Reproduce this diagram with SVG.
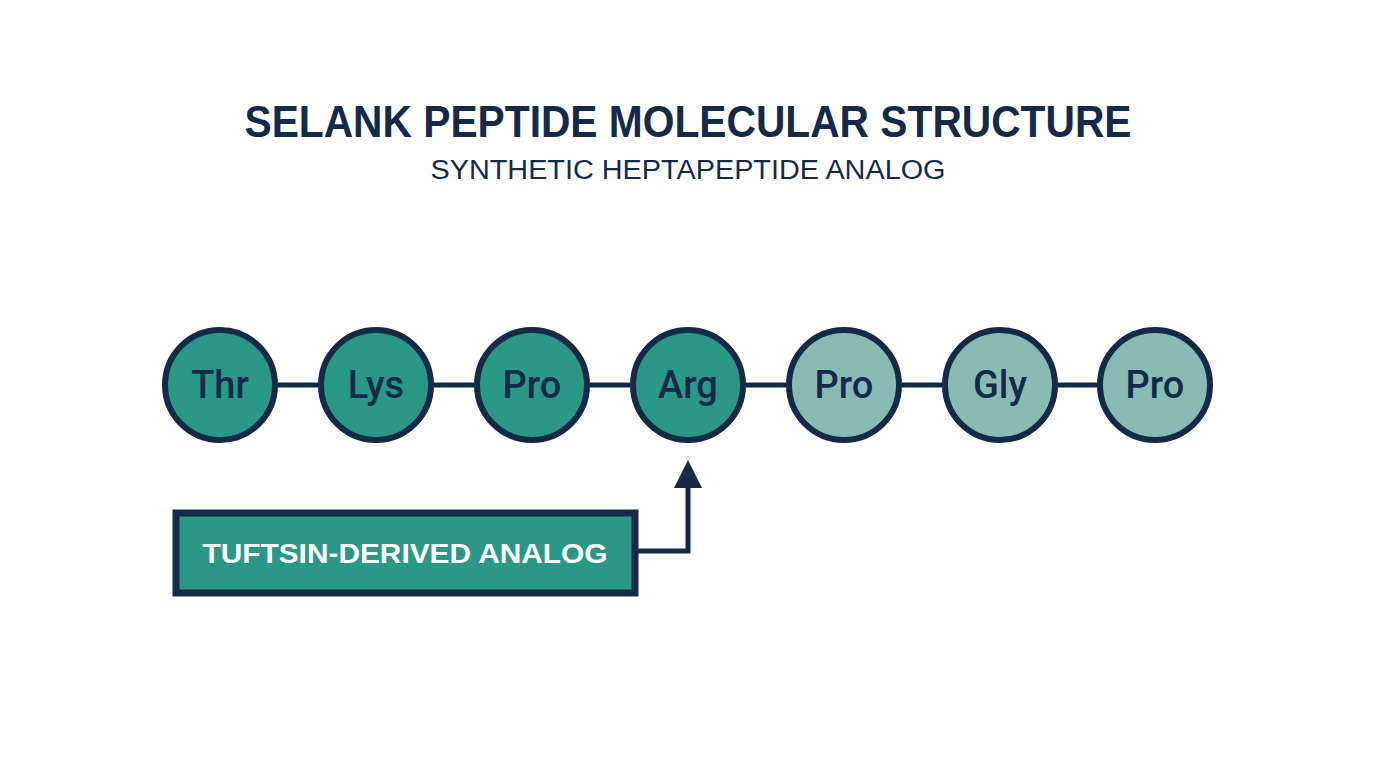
<svg xmlns="http://www.w3.org/2000/svg" width="1376" height="768" viewBox="0 0 1376 768">
<defs>
<style>
.res circle{stroke:#142a48;stroke-width:6}
.dark circle{fill:#2a9886}
.light circle{fill:#86bcb4}
.res text{font-family:Roboto,"Liberation Sans",Arial,sans-serif;font-weight:500;font-size:38px;fill:#142a48;text-anchor:middle}
.bond{stroke:#142a48;stroke-width:5;fill:none}
</style>
</defs>
<rect width="1376" height="768" fill="#ffffff"/>
<g id="title">
<text x="688" y="137" font-family="Liberation Sans,Arial,sans-serif" font-weight="bold" font-size="45" fill="#142a48" text-anchor="middle" textLength="887" lengthAdjust="spacingAndGlyphs">SELANK PEPTIDE MOLECULAR STRUCTURE</text>
<text x="688" y="179" font-family="Liberation Sans,Arial,sans-serif" font-size="27" fill="#142a48" text-anchor="middle" textLength="515" lengthAdjust="spacingAndGlyphs">SYNTHETIC HEPTAPEPTIDE ANALOG</text>
</g>
<g id="connectors">
<line class="bond" x1="278" y1="385" x2="318" y2="385"/>
<line class="bond" x1="434" y1="385" x2="474" y2="385"/>
<line class="bond" x1="590" y1="385" x2="630" y2="385"/>
<line class="bond" x1="746" y1="385" x2="786" y2="385"/>
<line class="bond" x1="902" y1="385" x2="942" y2="385"/>
<line class="bond" x1="1058" y1="385" x2="1098" y2="385"/>
<polyline class="bond" points="638,551 688,551 688,485"/>
<polygon points="688,460 674,488 702,488" fill="#142a48"/>
</g>
<g id="thr" class="res dark"><circle cx="220" cy="385" r="55"/><text x="220" y="398">Thr</text></g>
<g id="lys" class="res dark"><circle cx="376" cy="385" r="55"/><text x="376" y="398">Lys</text></g>
<g id="pro1" class="res dark"><circle cx="532" cy="385" r="55"/><text x="532" y="398">Pro</text></g>
<g id="arg" class="res dark"><circle cx="688" cy="385" r="55"/><text x="688" y="398">Arg</text></g>
<g id="pro2" class="res light"><circle cx="844" cy="385" r="55"/><text x="844" y="398">Pro</text></g>
<g id="gly" class="res light"><circle cx="1000" cy="385" r="55"/><text x="1000" y="398">Gly</text></g>
<g id="pro3" class="res light"><circle cx="1155" cy="385" r="55"/><text x="1155" y="398">Pro</text></g>
<g id="tuftsin">
<rect x="176" y="513" width="459" height="80" fill="#2a9886" stroke="#142a48" stroke-width="7"/>
<text x="405" y="563" font-family="Liberation Sans,Arial,sans-serif" font-weight="bold" font-size="27" fill="#ffffff" text-anchor="middle" textLength="405" lengthAdjust="spacingAndGlyphs">TUFTSIN-DERIVED ANALOG</text>
</g>
</svg>
